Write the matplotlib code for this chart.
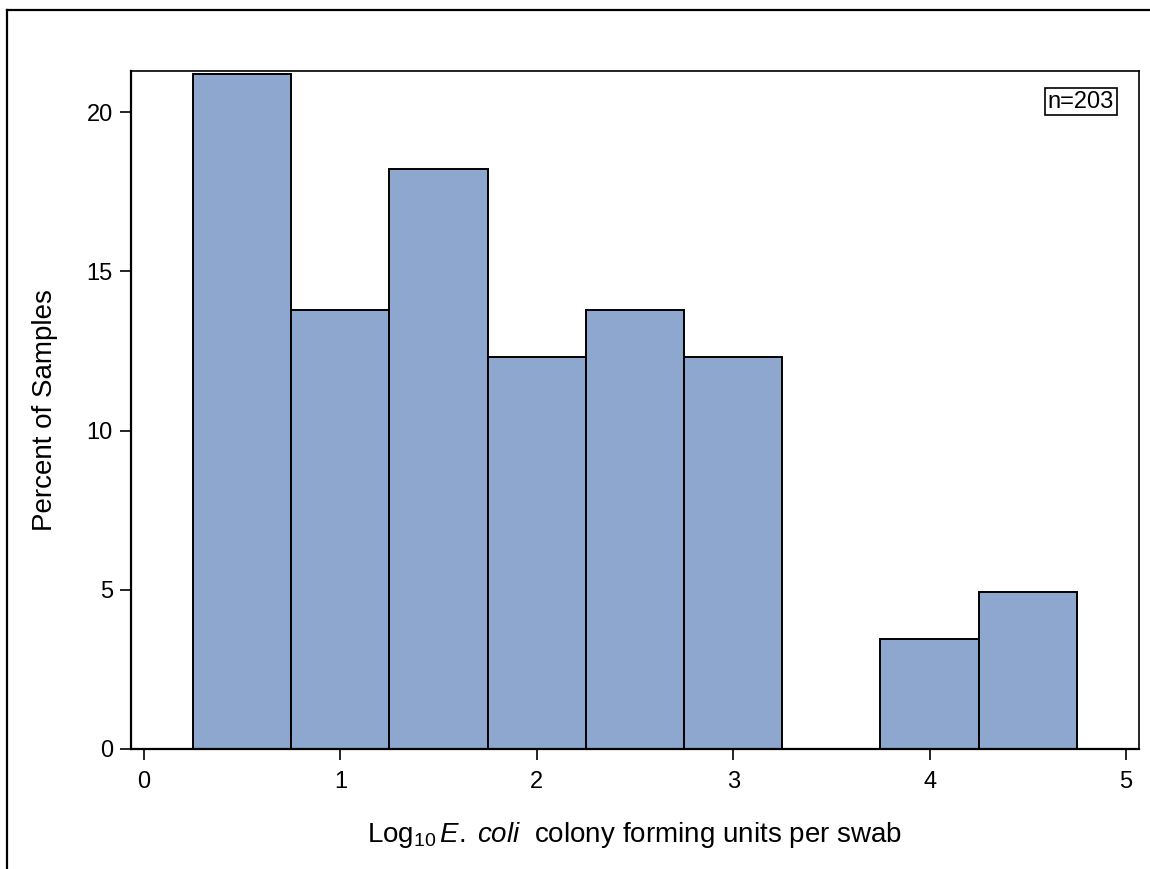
import numpy as np
import matplotlib.pyplot as plt
from matplotlib.lines import Line2D

plt.rcParams['font.family'] = ['Liberation Sans', 'DejaVu Sans']
plt.rcParams['mathtext.fontset'] = 'custom'
plt.rcParams['mathtext.rm'] = 'Liberation Sans'
plt.rcParams['mathtext.it'] = 'Liberation Sans:italic'

# histogram bins (log10 CFU per swab) and sample counts, n = 203
bin_left = [0.25, 0.75, 1.25, 1.75, 2.25, 2.75, 3.25, 3.75, 4.25]
bin_width = 0.5
counts = [43, 28, 37, 25, 28, 25, 0, 7, 10]
n_total = 203
percent = [100.0 * c / n_total for c in counts]

xticks = [0, 1, 2, 3, 4, 5]
yticks = [0, 5, 10, 15, 20]

fig = plt.figure(figsize=(11.5, 8.69), dpi=100)
ax = fig.add_axes([0.1139, 0.1381, 0.8765, 0.7802])

ax.bar(bin_left, percent, width=bin_width, align='edge',
       color='#8DA7CE', edgecolor='black', linewidth=1.4)

ax.set_xlim(-0.066, 5.066)
ax.set_ylim(0, 21.29)
ax.set_xticks(xticks)
ax.set_yticks(yticks)
ax.tick_params(direction='out', length=8, width=1.2, labelsize=17, colors='black')
ax.tick_params(axis='x', pad=8)
ax.tick_params(axis='y', pad=5)
for s in ax.spines.values():
    s.set_linewidth(1.2)
ax.spines['left'].set_linewidth(1.6)
ax.spines['bottom'].set_linewidth(1.6)

ax.set_ylabel('Percent of Samples', fontsize=20)
ax.yaxis.set_label_coords(-0.072, 0.5)
ax.set_xlabel(r'Log$_{10}$$\,\mathit{E.\;coli}$  colony forming units per swab',
              fontsize=20)
ax.xaxis.set_label_coords(0.5, -0.105)

ax.text(0.975, 0.955, 'n=%d' % n_total, transform=ax.transAxes, ha='right', va='center',
        fontsize=17,
        bbox=dict(boxstyle='square,pad=0.12', facecolor='white', edgecolor='black', linewidth=1.2))

# page frame around the figure
fig.add_artist(Line2D([0.0065, 0.0065], [0, 0.9885], color='black', linewidth=1.6))
fig.add_artist(Line2D([0.0065, 1.0], [0.9885, 0.9885], color='black', linewidth=1.6))

fig.savefig('out.png', dpi=100)
